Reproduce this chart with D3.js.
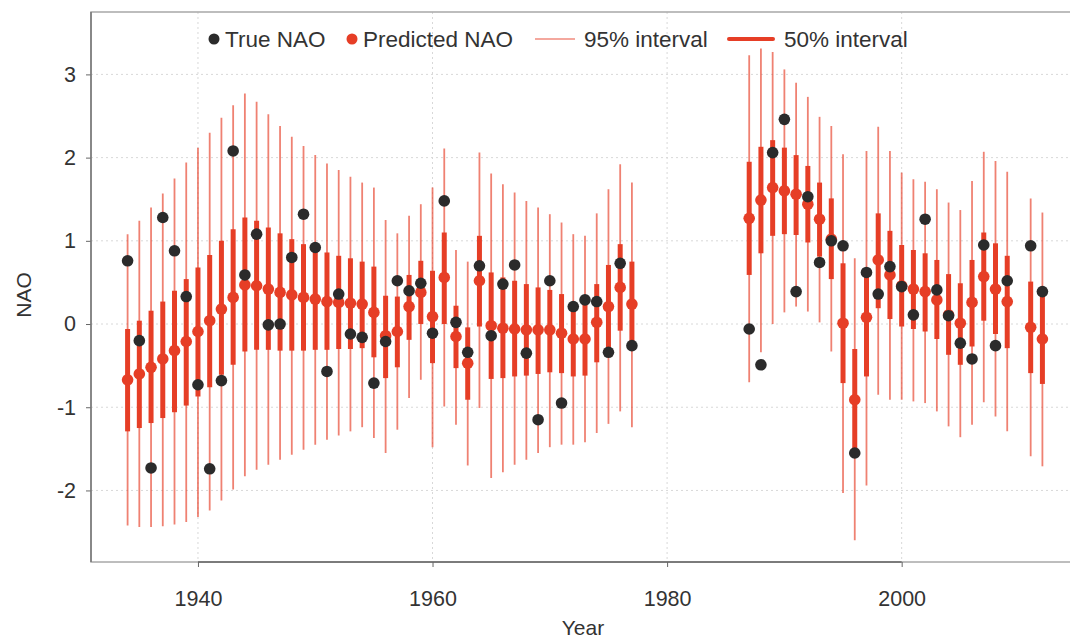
<!DOCTYPE html>
<html>
<head>
<meta charset="utf-8">
<script src="https://cdn.jsdelivr.net/npm/d3@7"></script>
<style>
  body { margin: 0; background: #fff; }
  text { font-family: "Liberation Sans", Arial, sans-serif; fill: #333; }
</style>
</head>
<body>
<svg id="chart" width="1070" height="640"></svg>
<script>
// years with a forecast (gap 1978-1986 and 2010)
const years = [
  1934, 1935, 1936, 1937, 1938, 1939, 1940, 1941, 1942, 1943, 1944, 1945,
  1946, 1947, 1948, 1949, 1950, 1951, 1952, 1953, 1954, 1955, 1956, 1957,
  1958, 1959, 1960, 1961, 1962, 1963, 1964, 1965, 1966, 1967, 1968, 1969,
  1970, 1971, 1972, 1973, 1974, 1975, 1976, 1977,
  1987, 1988, 1989, 1990, 1991, 1992, 1993, 1994, 1995, 1996, 1997, 1998,
  1999, 2000, 2001, 2002, 2003, 2004, 2005, 2006, 2007, 2008, 2009, 2011, 2012
];
const trueNAO = [
  0.76, -0.20, -1.73, 1.28, 0.88, 0.33, -0.73, -1.74, -0.68, 2.08, 0.59, 1.08,
  -0.01, 0.00, 0.80, 1.32, 0.92, -0.57, 0.36, -0.12, -0.16, -0.71, -0.21, 0.52,
  0.40, 0.49, -0.11, 1.48, 0.02, -0.34, 0.70, -0.14, 0.48, 0.71, -0.35, -1.15,
  0.52, -0.95, 0.21, 0.29, 0.27, -0.34, 0.73, -0.26,
  -0.06, -0.49, 2.06, 2.46, 0.39, 1.53, 0.74, 1.00, 0.94, -1.55, 0.62, 0.36,
  0.69, 0.45, 0.11, 1.26, 0.41, 0.10, -0.23, -0.42, 0.95, -0.26, 0.52, 0.94, 0.39
];
const predNAO = [
  -0.67, -0.60, -0.52, -0.42, -0.32, -0.21, -0.09, 0.04, 0.18, 0.32, 0.47, 0.46,
  0.42, 0.38, 0.35, 0.32, 0.30, 0.27, 0.26, 0.25, 0.24, 0.14, -0.14, -0.09,
  0.21, 0.38, 0.09, 0.56, -0.15, -0.47, 0.52, -0.02, -0.05, -0.06, -0.07, -0.07,
  -0.07, -0.11, -0.18, -0.18, 0.02, 0.21, 0.44, 0.24,
  1.27, 1.49, 1.64, 1.60, 1.56, 1.44, 1.26, 1.02, 0.01, -0.91, 0.08, 0.77,
  0.59, 0.46, 0.42, 0.39, 0.29, 0.11, 0.01, 0.26, 0.57, 0.42, 0.27, -0.04, -0.18
];
const lo50 = [
  -1.29, -1.25, -1.19, -1.13, -1.06, -0.98, -0.87, -0.76, -0.61, -0.49, -0.33, -0.31,
  -0.31, -0.32, -0.32, -0.32, -0.31, -0.31, -0.30, -0.30, -0.29, -0.40, -0.65, -0.52,
  -0.19, 0.00, -0.47, 0.00, -0.53, -0.91, -0.03, -0.66, -0.65, -0.63, -0.62, -0.60,
  -0.58, -0.59, -0.63, -0.62, -0.46, -0.33, -0.08, -0.27,
  0.59, 0.85, 1.06, 1.08, 1.07, 0.98, 0.81, 0.54, -0.71, -1.51, -0.63, 0.19,
  0.06, -0.03, -0.06, -0.09, -0.18, -0.37, -0.49, -0.27, 0.04, -0.12, -0.29, -0.59, -0.72
];
const hi50 = [
  -0.06, 0.04, 0.16, 0.27, 0.40, 0.54, 0.68, 0.83, 1.00, 1.14, 1.28, 1.24,
  1.16, 1.09, 1.02, 0.96, 0.93, 0.86, 0.82, 0.79, 0.75, 0.69, 0.34, 0.33,
  0.59, 0.76, 0.64, 1.10, 0.22, -0.04, 1.06, 0.62, 0.56, 0.52, 0.48, 0.44,
  0.41, 0.36, 0.26, 0.27, 0.48, 0.71, 0.96, 0.75,
  1.95, 2.13, 2.21, 2.12, 2.03, 1.90, 1.70, 1.51, 0.73, -0.30, 0.65, 1.33,
  1.12, 0.95, 0.89, 0.85, 0.77, 0.60, 0.49, 0.77, 1.10, 0.97, 0.82, 0.51, 0.40
];
const lo95 = [
  -2.42, -2.44, -2.44, -2.43, -2.41, -2.38, -2.32, -2.24, -2.12, -1.99, -1.83, -1.75,
  -1.69, -1.63, -1.57, -1.51, -1.45, -1.39, -1.34, -1.29, -1.24, -1.37, -1.55, -1.27,
  -0.89, -0.67, -1.48, -0.99, -1.21, -1.70, -1.01, -1.85, -1.78, -1.69, -1.63, -1.55,
  -1.48, -1.45, -1.45, -1.42, -1.31, -1.20, -1.05, -1.24,
  -0.70, -0.34, 0.00, 0.14, 0.21, 0.15, 0.02, -0.33, -2.03, -2.60, -1.94, -0.85,
  -0.91, -0.91, -0.93, -0.95, -1.05, -1.23, -1.36, -1.21, -0.94, -1.11, -1.29, -1.59, -1.71
];
const hi95 = [
  1.08, 1.24, 1.40, 1.57, 1.75, 1.94, 2.12, 2.30, 2.48, 2.63, 2.77, 2.67,
  2.52, 2.38, 2.25, 2.14, 2.03, 1.93, 1.85, 1.77, 1.70, 1.64, 1.25, 1.09,
  1.30, 1.44, 1.64, 2.11, 0.89, 0.75, 2.06, 1.81, 1.68, 1.58, 1.48, 1.40,
  1.32, 1.22, 1.08, 1.06, 1.33, 1.62, 1.92, 1.70,
  3.23, 3.31, 3.27, 3.06, 2.90, 2.73, 2.49, 2.38, 2.04, 0.79, 2.08, 2.37,
  2.08, 1.82, 1.74, 1.71, 1.62, 1.46, 1.37, 1.72, 2.07, 1.96, 1.83, 1.51, 1.34
];
const xTicks = [1940, 1960, 1980, 2000];
const yTicks = [-2, -1, 0, 1, 2, 3];
const legendLabels = ["True NAO", "Predicted NAO", "95% interval", "50% interval"];

const RED = "#e63e26";
const DARK = "#2b2b2b";

const svg = d3.select("#chart");
const plotLeft = 91, plotRight = 1079, plotTop = 12, plotBottom = 562;

const x = d3.scaleLinear().domain([1930.88, 2015.12]).range([plotLeft, plotRight]);
const y = d3.scaleLinear().domain([-2.86, 3.75]).range([plotBottom, plotTop]);

const rows = years.map((yr, i) => ({
  year: yr, obs: trueNAO[i], pred: predNAO[i],
  lo50: lo50[i], hi50: hi50[i], lo95: lo95[i], hi95: hi95[i]
}));

// grid
const grid = svg.append("g")
  .attr("stroke", "#d8d8d8")
  .attr("stroke-width", 1)
  .attr("stroke-dasharray", "2,3");
grid.selectAll(".gy").data(yTicks).enter().append("line")
  .attr("x1", plotLeft).attr("x2", plotRight)
  .attr("y1", d => y(d)).attr("y2", d => y(d));
grid.selectAll(".gx").data(xTicks).enter().append("line")
  .attr("x1", d => x(d)).attr("x2", d => x(d))
  .attr("y1", plotTop).attr("y2", plotBottom);

// box
svg.append("rect")
  .attr("x", plotLeft).attr("y", plotTop)
  .attr("width", plotRight - plotLeft).attr("height", plotBottom - plotTop)
  .attr("fill", "none").attr("stroke", "#a8a8a8").attr("stroke-width", 1.5);

// axes (plain hyphen minus, like the original)
const yAxis = svg.append("g")
  .attr("transform", `translate(${plotLeft},0)`)
  .call(d3.axisLeft(y).tickValues(yTicks).tickSize(5).tickPadding(10).tickFormat(d => String(d)));
const xAxis = svg.append("g")
  .attr("transform", `translate(0,${plotBottom})`)
  .call(d3.axisBottom(x).tickValues(xTicks).tickSize(5).tickPadding(24).tickFormat(d => String(d)));
[yAxis, xAxis].forEach(a => {
  a.select(".domain").remove();
  a.selectAll("line").attr("stroke", "#666");
  a.selectAll("text").attr("font-size", 21.5).attr("fill", "#333")
    .attr("font-family", "'Liberation Sans', Arial, sans-serif");
});
svg.append("line")
  .attr("x1", plotLeft).attr("x2", plotLeft).attr("y1", plotTop).attr("y2", plotBottom)
  .attr("stroke", "#777").attr("stroke-width", 1.5);
svg.append("line")
  .attr("x1", x(xTicks[0])).attr("x2", x(xTicks[xTicks.length - 1]))
  .attr("y1", plotBottom).attr("y2", plotBottom)
  .attr("stroke", "#666").attr("stroke-width", 1.5);

svg.append("text")
  .attr("transform", `translate(31,${y(0.35)}) rotate(-90)`)
  .attr("text-anchor", "middle").attr("font-size", 21).text("NAO");
svg.append("text")
  .attr("x", 583).attr("y", 635)
  .attr("text-anchor", "middle").attr("font-size", 21).text("Year");

// intervals
const marks = svg.append("g");
marks.selectAll(".i95").data(rows).enter().append("line")
  .attr("x1", d => x(d.year)).attr("x2", d => x(d.year))
  .attr("y1", d => y(d.lo95)).attr("y2", d => y(d.hi95))
  .attr("stroke", RED).attr("stroke-opacity", 0.65).attr("stroke-width", 1.8);
marks.selectAll(".i50").data(rows).enter().append("line")
  .attr("x1", d => x(d.year)).attr("x2", d => x(d.year))
  .attr("y1", d => y(d.lo50)).attr("y2", d => y(d.hi50))
  .attr("stroke", RED).attr("stroke-width", 5);
marks.selectAll(".pred").data(rows).enter().append("circle")
  .attr("cx", d => x(d.year)).attr("cy", d => y(d.pred))
  .attr("r", 5.8).attr("fill", RED);
marks.selectAll(".obs").data(rows).enter().append("circle")
  .attr("cx", d => x(d.year)).attr("cy", d => y(d.obs))
  .attr("r", 5.8).attr("fill", DARK);

// legend
const leg = svg.append("g").attr("font-size", 22.5);
const ly = 39;
leg.append("circle").attr("cx", 214).attr("cy", ly).attr("r", 5.5).attr("fill", DARK);
leg.append("text").attr("x", 225).attr("y", ly + 8).text(legendLabels[0]);
leg.append("circle").attr("cx", 352).attr("cy", ly).attr("r", 5.5).attr("fill", RED);
leg.append("text").attr("x", 363).attr("y", ly + 8).text(legendLabels[1]);
leg.append("line").attr("x1", 535).attr("x2", 575).attr("y1", ly).attr("y2", ly)
  .attr("stroke", RED).attr("stroke-opacity", 0.6).attr("stroke-width", 1.6);
leg.append("text").attr("x", 584).attr("y", ly + 8).text(legendLabels[2]);
leg.append("line").attr("x1", 729).attr("x2", 773).attr("y1", ly).attr("y2", ly)
  .attr("stroke", RED).attr("stroke-width", 4).attr("stroke-linecap", "round");
leg.append("text").attr("x", 784).attr("y", ly + 8).text(legendLabels[3]);
</script>
</body>
</html>
